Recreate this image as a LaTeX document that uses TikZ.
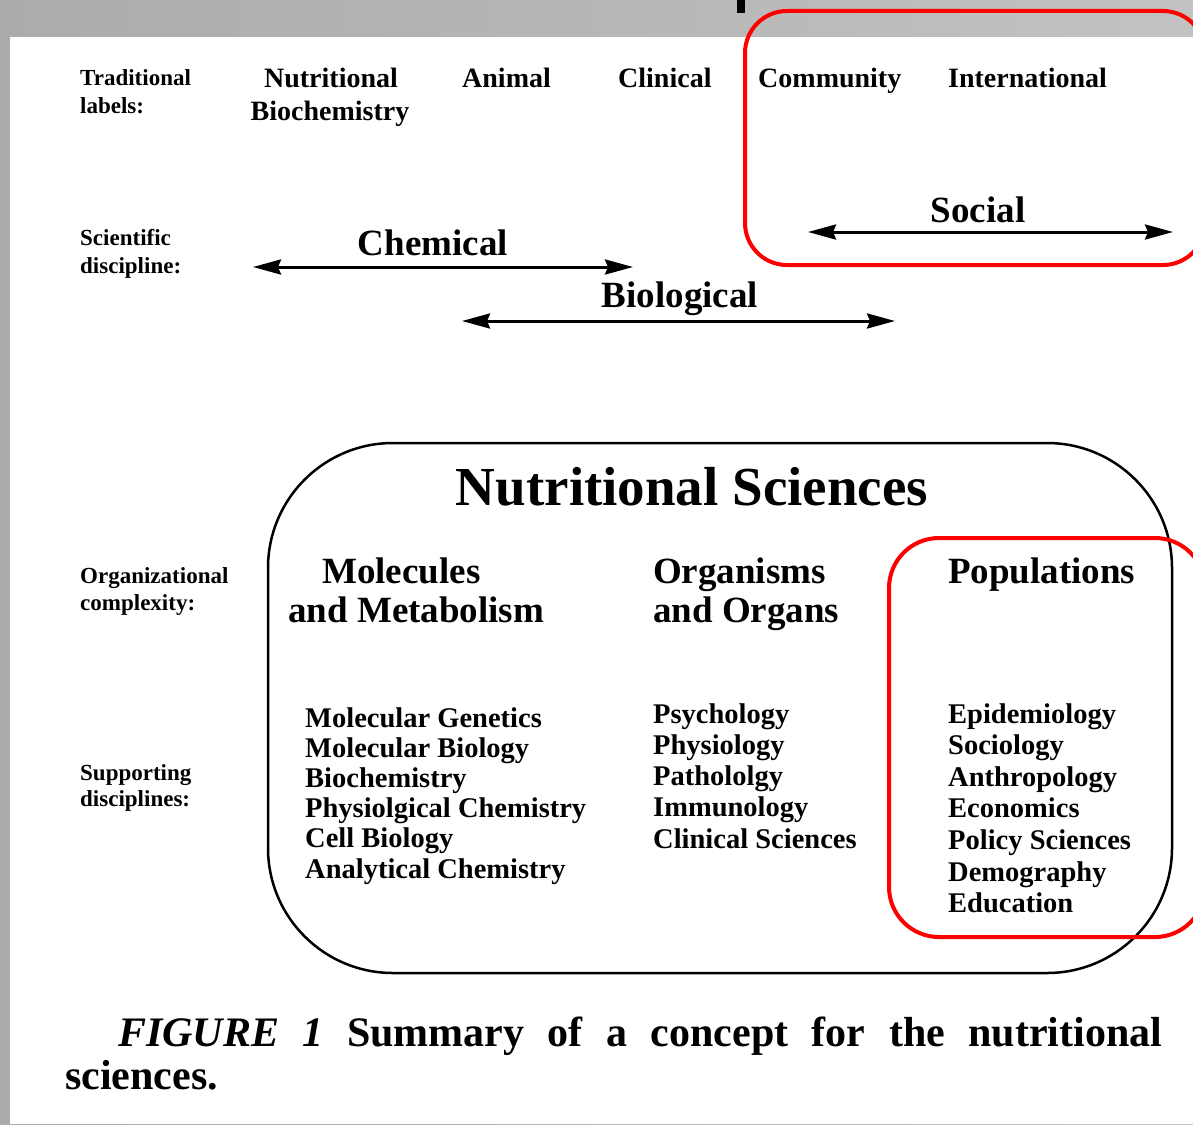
\documentclass[tikz,border=0pt]{standalone}
\usepackage{fontspec}
\setmainfont{Liberation Serif}
\usetikzlibrary{arrows.meta}
\definecolor{bgl}{HTML}{ABABAB}
\definecolor{bgm}{HTML}{DDDDDD}
\definecolor{bgr}{HTML}{C2C2C2}
\definecolor{hired}{HTML}{FF0000}
\begin{document}
\begin{tikzpicture}[x=1pt,y=-1pt,
  sidelbl/.style={anchor=base west, inner sep=0pt, font=\fontsize{23}{28}\selectfont\bfseries},
  toplbl/.style={anchor=base west, inner sep=0pt, font=\fontsize{28}{32}\selectfont\bfseries},
  disclbl/.style={anchor=base, inner sep=0pt, font=\fontsize{37}{42}\selectfont\bfseries},
  colhead/.style={anchor=base west, inner sep=0pt, font=\fontsize{37}{42}\selectfont\bfseries},
  listitem/.style={anchor=base west, inner sep=0pt, font=\fontsize{28.5}{31}\selectfont\bfseries},
  rangearrow/.style={line width=3pt,
    {Stealth[length=28pt,width=15pt,inset=3pt]}-{Stealth[length=28pt,width=15pt,inset=3pt]}},
  hilite/.style={draw=hired, line width=4pt, fill=none, inner sep=0pt},
]
\useasboundingbox (0,0) rectangle (1193,1124);
\clip (0,0) rectangle (1193,1124);

% slide background and page
\shade[left color=bgl, middle color=bgm, right color=bgr] (0,0) rectangle (1193,1124);
\fill[white] (10,37) rectangle (1193,1124);
\fill[black] (737,0) rectangle (745,13);

% row labels
\node[sidelbl] (trad1) at (80,85) {Traditional};
\node[sidelbl] (trad2) at (80,113) {labels:};
\node[sidelbl] (sci1) at (80,245) {Scientific};
\node[sidelbl] (sci2) at (80,273) {discipline:};
\node[sidelbl] (org1) at (80,583) {Organizational};
\node[sidelbl] (org2) at (80,610) {complexity:};
\node[sidelbl] (sup1) at (80,780) {Supporting};
\node[sidelbl] (sup2) at (80,806) {disciplines:};

% traditional labels
\node[toplbl, anchor=base] (nb1) at (331,88) {Nutritional};
\node[toplbl, anchor=base] (nb2) at (330,120) {Biochemistry};
\node[toplbl] (animal) at (462,88) {Animal};
\node[toplbl] (clinical) at (618,88) {Clinical};
\node[toplbl] (community) at (758,88) {Community};
\node[toplbl] (international) at (948,88) {International};

% scientific disciplines with their ranges
\node[disclbl] (chem) at (433,255) {Chemical};
\coordinate (chemL) at (253,267);
\coordinate (chemR) at (633,267);
\draw[rangearrow] (chemL) -- (chemR);

\node[disclbl] (bio) at (680,307) {Biological};
\coordinate (bioL) at (462,321);
\coordinate (bioR) at (895,321);
\draw[rangearrow] (bioL) -- (bioR);

\node[disclbl] (social) at (978,222) {Social};
\coordinate (socL) at (808,232);
\coordinate (socR) at (1173,232);
\draw[rangearrow] (socL) -- (socR);

% nutritional sciences frame
\node[draw, line width=2.5pt, rounded corners=125pt, minimum width=904pt,
      minimum height=530pt, inner sep=0pt] (nsbox) at (720,708) {};
\node[anchor=base, inner sep=0pt, font=\fontsize{55}{60}\selectfont\bfseries]
      (title) at (692,505) {Nutritional Sciences};

% levels of organization
\node[colhead] (molA) at (322,583) {Molecules};
\node[colhead] (molB) at (288,622) {and Metabolism};
\node[colhead] (orgA) at (653,583) {Organisms};
\node[colhead] (orgB) at (653,622) {and Organs};
\node[colhead] (pop) at (948,583) {Populations};

% supporting disciplines
\foreach \t [count=\i] in {Molecular Genetics, Molecular Biology, Biochemistry,
    Physiolgical Chemistry, Cell Biology, Analytical Chemistry}
  \node[listitem] (mol\i) at (305,{727+30.2*(\i-1)}) {\t};
\foreach \t [count=\i] in {Psychology, Physiology, Pathololgy, Immunology,
    Clinical Sciences}
  \node[listitem] (orgn\i) at (653,{723+31.3*(\i-1)}) {\t};
\foreach \t [count=\i] in {Epidemiology, Sociology, Anthropology, Economics,
    Policy Sciences, Demography, Education}
  \node[listitem] (popn\i) at (948,{723+31.6*(\i-1)}) {\t};

% highlighted regions
\node[hilite, rounded corners=42pt, minimum width=460pt, minimum height=254pt]
      (hlsocial) at (975,138) {};
\node[hilite, rounded corners=50pt, minimum width=316pt, minimum height=399pt]
      (hlpop) at (1047,737.5) {};

% caption
\node[anchor=base west, inner sep=0pt, font=\fontsize{42}{46}\selectfont\bfseries]
      (cap1) at (118,1046)
      {\makebox[1044pt][s]{\textit{FIGURE 1} Summary of a concept for the nutritional}};
\node[anchor=base west, inner sep=0pt, font=\fontsize{42}{46}\selectfont\bfseries]
      (cap2) at (65,1089) {sciences.};
\end{tikzpicture}
\end{document}
